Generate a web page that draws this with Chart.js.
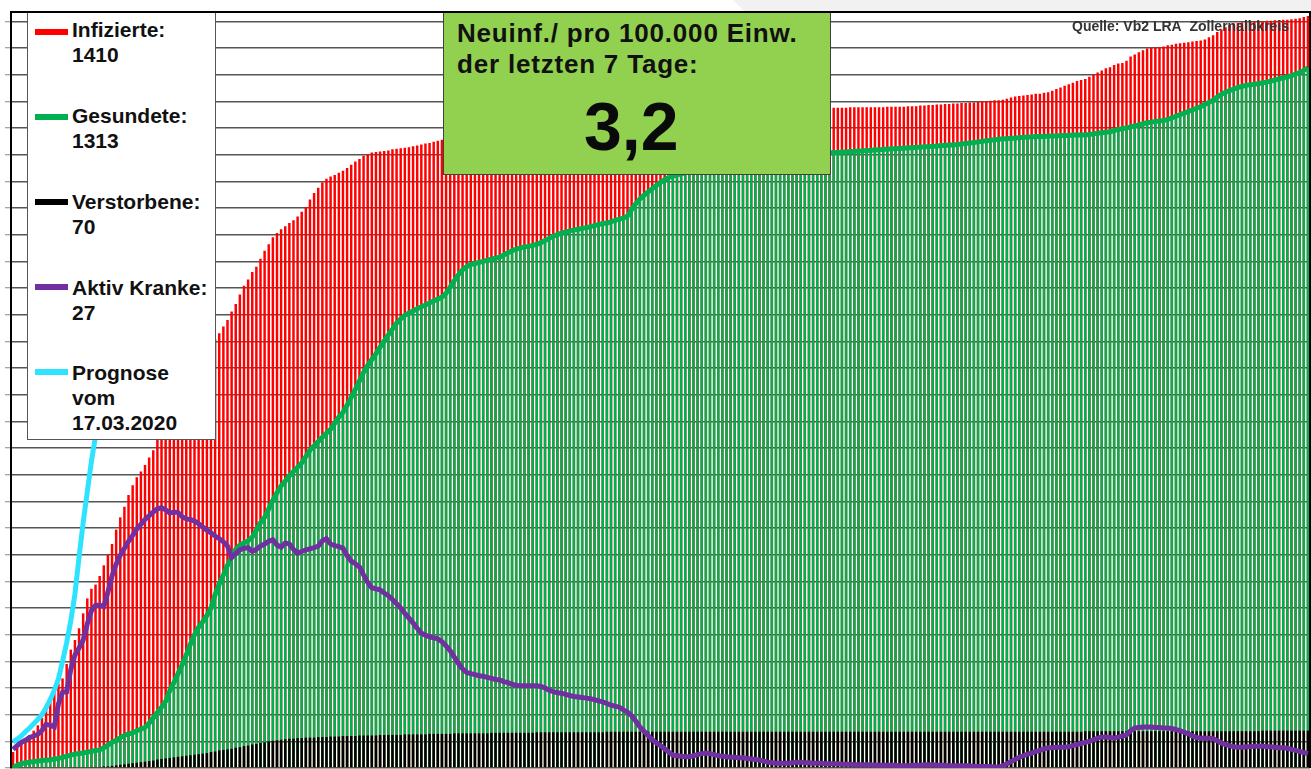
<!DOCTYPE html>
<html>
<head>
<meta charset="utf-8">
<title>Corona Zollernalbkreis</title>
<script src="https://cdn.jsdelivr.net/npm/chart.js"></script>
<style>
    html, body { margin: 0; padding: 0; background: #fff; }
    body { width: 1311px; height: 769px; position: relative; overflow: hidden;
           font-family: 'Liberation Sans', Arial, sans-serif; color: #111; }
    .band { position: absolute; left: 733px; top: 0; width: 578px; height: 12px; background: #f1f1f1;
            clip-path: polygon(0 0, 100% 0, 100% 100%, 12px 100%); }
    #chart { position: absolute; left: 0; top: 0; }
    .legende { position: absolute; left: 27px; top: 13px; width: 187px; height: 426px; background: #fff;
               border: 1px solid #555; border-top: none; }
    .sw { position: absolute; left: 35px; width: 33px; height: 6px; }
    .lt { position: absolute; left: 72px; font-weight: bold; font-size: 21px; line-height: 25px; white-space: nowrap; }
    .kasten { position: absolute; left: 443px; top: 13px; width: 386px; height: 161px; background: #92D050;
              border: 1px solid #404040; border-top: none; }
    .kt { position: absolute; left: 457px; font-weight: bold; font-size: 26px; line-height: 31.5px;
          letter-spacing: 0.8px; white-space: nowrap; color: #111; }
    .gross { position: absolute; left: 584px; top: 92px; font-weight: bold; font-size: 68px; line-height: 68px; color: #0a0a0a; }
    .quelle { position: absolute; left: 1072px; top: 18px; font-weight: bold; font-size: 14px; line-height: 16px;
              color: #333; white-space: nowrap; }
</style>
</head>
<body>
    <div class="band"></div>
    <canvas id="chart" width="1311" height="769"></canvas>

    <div class="legende"></div>
    <div class="sw" style="top:29px;background:#FF0000"></div>
    <div class="lt" style="top:17px">Infizierte:<br>1410</div>
    <div class="sw" style="top:114px;background:#00B050"></div>
    <div class="lt" style="top:103px">Gesundete:<br>1313</div>
    <div class="sw" style="top:199px;background:#000"></div>
    <div class="lt" style="top:189px">Verstorbene:<br>70</div>
    <div class="sw" style="top:284px;background:#7030A0"></div>
    <div class="lt" style="top:275px">Aktiv Kranke:<br>27</div>
    <div class="sw" style="top:369px;background:#2EE3FF"></div>
    <div class="lt" style="top:360px">Prognose<br>vom<br>17.03.2020</div>

    <div class="kasten"></div>
    <div class="kt" style="top:18px">Neuinf./ pro 100.000 Einw.</div>
    <div class="kt" style="top:49px">der letzten 7 Tage:</div>
    <div class="gross">3,2</div>

    <div class="quelle">Quelle: Vb2 LRA&nbsp; Zollernalbkreis</div>

    <script>
        // kumulierte Werte je Tag
        const infizierte = [
            30, 38, 45, 55, 62, 70, 80, 94, 110, 128,
            148, 158, 168, 195, 222, 240, 262, 290, 318, 336,
            344, 360, 380, 400, 420, 447, 470, 490, 512, 530,
            545, 556, 568, 582, 596, 615, 632, 648, 662, 676,
            690, 702, 715, 728, 742, 755, 768, 780, 792, 804,
            815, 828, 840, 856, 870, 888, 904, 916, 930, 940,
            955, 970, 982, 995, 1003, 1010, 1016, 1022, 1027, 1034,
            1043, 1052, 1066, 1078, 1088, 1098, 1105, 1109, 1112, 1116,
            1120, 1125, 1131, 1137, 1142, 1148, 1151, 1154, 1155, 1156,
            1157, 1158, 1160, 1161, 1162, 1163, 1164, 1166, 1167, 1169,
            1171, 1172, 1174, 1176, 1178, 1179, 1180, 1181, 1182, 1183,
            1184, 1185, 1186, 1186, 1187, 1188, 1189, 1190, 1190, 1191,
            1192, 1193, 1194, 1195, 1196, 1196, 1197, 1198, 1199, 1200,
            1201, 1202, 1202, 1203, 1204, 1205, 1206, 1207, 1207, 1208,
            1209, 1209, 1210, 1210, 1210, 1211, 1211, 1211, 1212, 1212,
            1212, 1212, 1212, 1212, 1213, 1213, 1213, 1213, 1213, 1213,
            1213, 1213, 1214, 1214, 1214, 1214, 1214, 1215, 1215, 1215,
            1215, 1215, 1216, 1216, 1216, 1217, 1217, 1218, 1218, 1219,
            1220, 1221, 1222, 1223, 1224, 1225, 1226, 1227, 1228, 1229,
            1230, 1231, 1232, 1233, 1234, 1235, 1236, 1237, 1238, 1238,
            1238, 1238, 1238, 1239, 1239, 1239, 1239, 1239, 1239, 1239,
            1239, 1239, 1240, 1240, 1240, 1240, 1240, 1241, 1241, 1241,
            1242, 1242, 1243, 1243, 1244, 1244, 1245, 1245, 1246, 1246,
            1247, 1247, 1248, 1248, 1249, 1250, 1250, 1251, 1252, 1252,
            1253, 1255, 1257, 1259, 1260, 1261, 1262, 1263, 1264, 1264,
            1266, 1267, 1270, 1273, 1276, 1279, 1282, 1285, 1288, 1290,
            1292, 1296, 1300, 1304, 1308, 1312, 1314, 1318, 1321, 1322,
            1326, 1334, 1338, 1342, 1346, 1349, 1350, 1351, 1352, 1353,
            1355, 1356, 1358, 1359, 1360, 1361, 1362, 1363, 1364, 1366,
            1370, 1374, 1380, 1385, 1389, 1393, 1396, 1397, 1398, 1398,
            1399, 1399, 1400, 1400, 1401, 1401, 1402, 1402, 1403, 1403,
            1404, 1405, 1406, 1408, 1410
        ];

        const gesundete = [
            0, 5, 8, 10, 11, 12, 13, 14, 15, 15,
            17, 18, 20, 22, 24, 26, 27, 28, 30, 31,
            33, 34, 38, 43, 48, 52, 57, 61, 64, 66,
            70, 73, 76, 84, 94, 104, 114, 125, 145, 160,
            177, 193, 212, 232, 250, 264, 274, 286, 300, 325,
            345, 362, 380, 395, 410, 418, 422, 426, 433, 446,
            460, 470, 486, 502, 516, 529, 538, 548, 556, 564,
            572, 584, 596, 604, 612, 620, 628, 635, 646, 658,
            667, 680, 695, 710, 726, 742, 755, 766, 777, 789,
            801, 812, 823, 834, 842, 849, 853, 857, 861, 865,
            868, 872, 876, 879, 883, 890, 902, 914, 925, 934,
            940, 944, 946, 948, 950, 952, 954, 956, 958, 962,
            966, 970, 973, 975, 977, 978, 980, 982, 985, 989,
            993, 997, 1000, 1003, 1005, 1007, 1009, 1010, 1012, 1013,
            1015, 1017, 1019, 1021, 1022, 1024, 1027, 1029, 1031, 1035,
            1047, 1058, 1067, 1074, 1080, 1086, 1092, 1098, 1103, 1107,
            1110, 1112, 1114, 1116, 1117, 1118, 1119, 1120, 1121, 1122,
            1123, 1124, 1125, 1126, 1127, 1128, 1129, 1130, 1131, 1132,
            1133, 1134, 1135, 1136, 1137, 1138, 1140, 1141, 1142, 1143,
            1144, 1145, 1146, 1147, 1148, 1150, 1151, 1152, 1153, 1154,
            1154, 1155, 1155, 1156, 1156, 1157, 1157, 1158, 1158, 1159,
            1159, 1160, 1160, 1161, 1161, 1162, 1162, 1163, 1163, 1164,
            1164, 1165, 1165, 1166, 1166, 1167, 1167, 1168, 1168, 1169,
            1170, 1171, 1172, 1173, 1174, 1175, 1176, 1177, 1178, 1179,
            1180, 1180, 1181, 1181, 1182, 1182, 1183, 1183, 1184, 1184,
            1184, 1185, 1185, 1185, 1186, 1186, 1186, 1187, 1187, 1187,
            1187, 1188, 1189, 1190, 1191, 1192, 1193, 1195, 1197, 1199,
            1200, 1202, 1204, 1206, 1208, 1210, 1211, 1212, 1213, 1214,
            1216, 1219, 1222, 1225, 1228, 1231, 1234, 1237, 1240, 1244,
            1248, 1252, 1258, 1263, 1267, 1270, 1273, 1276, 1278, 1280,
            1281, 1282, 1283, 1285, 1286, 1288, 1290, 1292, 1294, 1296,
            1298, 1301, 1304, 1308, 1313
        ];

        const verstorbene = [
            0, 0, 0, 0, 0, 0, 0, 0, 0, 0,
            0, 0, 0, 0, 1, 1, 1, 1, 1, 2,
            2, 2, 3, 3, 4, 5, 6, 7, 8, 9,
            10, 11, 12, 13, 14, 16, 17, 18, 19, 20,
            21, 22, 23, 24, 25, 26, 27, 28, 30, 31,
            33, 34, 35, 36, 38, 39, 41, 42, 44, 45,
            47, 48, 50, 51, 52, 53, 54, 55, 55, 56,
            56, 57, 57, 57, 58, 58, 58, 59, 59, 59,
            60, 60, 60, 60, 61, 61, 61, 61, 61, 62,
            62, 62, 62, 62, 62, 63, 63, 63, 63, 63,
            63, 64, 64, 64, 64, 64, 64, 65, 65, 65,
            65, 65, 65, 65, 65, 65, 66, 66, 66, 66,
            66, 66, 66, 66, 66, 66, 66, 67, 67, 67,
            67, 67, 67, 67, 67, 67, 67, 67, 67, 67,
            67, 67, 67, 67, 68, 68, 68, 68, 68, 68,
            68, 68, 68, 68, 68, 68, 68, 68, 68, 68,
            68, 68, 68, 68, 68, 68, 68, 68, 68, 68,
            68, 68, 68, 68, 68, 68, 68, 68, 68, 68,
            68, 68, 68, 68, 68, 68, 68, 68, 68, 68,
            68, 68, 68, 68, 68, 68, 68, 68, 68, 68,
            68, 68, 68, 68, 68, 68, 68, 68, 68, 68,
            68, 68, 68, 68, 68, 68, 68, 68, 68, 68,
            68, 68, 68, 68, 68, 68, 68, 68, 68, 68,
            68, 68, 68, 68, 68, 68, 68, 68, 68, 68,
            68, 68, 68, 68, 68, 68, 68, 68, 68, 68,
            68, 68, 68, 68, 68, 68, 68, 68, 68, 68,
            69, 69, 69, 69, 69, 69, 69, 69, 69, 69,
            69, 69, 69, 69, 69, 69, 69, 69, 69, 69,
            69, 69, 69, 69, 69, 69, 69, 69, 69, 69,
            69, 69, 69, 69, 69, 69, 69, 69, 69, 69,
            69, 69, 69, 70, 70, 70, 70, 70, 70, 70,
            70, 70, 70, 70, 70
        ];

        const aktivKranke = [
            35, 42, 48, 52, 57, 60, 63, 70, 82, 80,
            77, 120, 142, 143, 185, 212, 225, 240, 270, 295,
            305, 305, 303, 330, 360, 382, 399, 412, 425, 436,
            448, 457, 466, 473, 480, 486, 488, 484, 478, 480,
            479, 471, 467, 466, 463, 458, 452, 446, 441, 435,
            430, 424, 416, 395, 402, 409, 412, 413, 406, 410,
            416, 420, 425, 428, 418, 414, 422, 420, 410, 403,
            406, 409, 411, 413, 416, 426, 430, 420, 417, 415,
            412, 398, 388, 383, 377, 362, 348, 338, 336, 334,
            328, 323, 316, 308, 300, 290, 281, 272, 262, 253,
            249, 246, 244, 242, 237, 229, 220, 208, 196, 186,
            179, 177, 175, 173, 172, 170, 168, 166, 165, 162,
            160, 157, 155, 154, 154, 154, 154, 154, 153, 150,
            146, 143, 141, 140, 138, 136, 134, 133, 132, 131,
            130, 128, 126, 124, 121, 118, 116, 114, 109, 105,
            98, 88, 77, 69, 61, 53, 47, 42, 36, 30,
            24, 23, 22, 21, 21, 23, 25, 27, 28, 27,
            25, 23, 22, 21, 20, 20, 19, 19, 18, 17,
            16, 15, 13, 11, 10, 9, 9, 9, 9, 10,
            11, 11, 10, 10, 9, 9, 9, 8, 8, 8,
            8, 7, 7, 7, 6, 6, 6, 6, 6, 5,
            5, 5, 5, 5, 5, 4, 4, 4, 5, 5,
            5, 6, 6, 6, 5, 5, 5, 4, 4, 4,
            4, 4, 4, 3, 3, 3, 3, 3, 2, 2,
            4, 8, 12, 16, 20, 23, 26, 28, 31, 33,
            36, 38, 38, 39, 39, 39, 40, 42, 44, 46,
            48, 50, 53, 56, 58, 58, 57, 56, 58, 60,
            62, 70, 75, 76, 77, 77, 77, 76, 76, 75,
            75, 74, 72, 70, 67, 64, 60, 57, 56, 56,
            56, 55, 51, 47, 44, 42, 40, 39, 39, 40,
            40, 41, 41, 41, 40, 40, 39, 38, 38, 37,
            35, 33, 31, 29, 27
        ];

        // Prognose vom 17.03.2020 (laeuft nach wenigen Tagen oben aus dem Bild)
        const prognose = [
            49, 54, 60, 68, 75, 83, 91, 100, 113, 128,
            146, 167, 200, 235, 276, 326, 395, 460, 518, 575,
            622, 700, 800, 930, 1090, 1280, 1500
        ];

        const startDatum = new Date(2020, 2, 5);
        const tage = infizierte.map((_, i) => {
            const d = new Date(startDatum);
            d.setDate(d.getDate() + i);
            return d.toLocaleDateString('de-DE');
        });

        const yMax = 1417.5;

        // schwarzer Rahmen oben und rechts
        const rahmen = {
            id: 'rahmen',
            afterDraw(chart) {
                const { ctx, chartArea: a } = chart;
                ctx.save();
                ctx.strokeStyle = '#000';
                ctx.lineWidth = 2;
                ctx.beginPath();
                ctx.moveTo(a.left, a.top);
                ctx.lineTo(a.right, a.top);
                ctx.lineTo(a.right, a.bottom);
                ctx.stroke();
                ctx.restore();
            }
        };

        new Chart(document.getElementById('chart'), {
            type: 'bar',
            data: {
                labels: tage,
                datasets: [
                    {
                        type: 'line', label: 'Prognose vom 17.03.2020', data: prognose,
                        borderColor: '#2EE3FF', borderWidth: 5, pointRadius: 0, tension: 0, order: 0
                    },
                    {
                        type: 'line', label: 'Aktiv Kranke', data: aktivKranke,
                        borderColor: '#7030A0', borderWidth: 5, pointRadius: 0, tension: 0, order: 1
                    },
                    { label: 'Verstorbene', data: verstorbene, backgroundColor: '#000000', order: 2 },
                    {
                        type: 'line', label: 'Gesundete (Linie)', data: gesundete,
                        borderColor: '#00B050', borderWidth: 5, pointRadius: 0, tension: 0, order: 3
                    },
                    { label: 'Gesundete', data: gesundete, backgroundColor: '#00B050', order: 4 },
                    { label: 'Infizierte', data: infizierte, backgroundColor: '#FF0000', order: 5 }
                ]
            },
            options: {
                responsive: false,
                animation: false,
                layout: { padding: { left: 5, top: 12, right: 1, bottom: 1 } },
                datasets: {
                    bar: { grouped: false, barPercentage: 0.6, categoryPercentage: 1 }
                },
                plugins: {
                    legend: { display: false },
                    tooltip: { enabled: false }
                },
                scales: {
                    x: { display: false },
                    y: {
                        min: 0,
                        max: yMax,
                        ticks: { display: false, stepSize: 50, includeBounds: false },
                        grid: { color: '#555555', lineWidth: 1.5, tickLength: 6, tickColor: '#888', tickWidth: 1 },
                        border: { display: true, color: '#000', width: 2 }
                    }
                }
            },
            plugins: [rahmen]
        });
    </script>
</body>
</html>
